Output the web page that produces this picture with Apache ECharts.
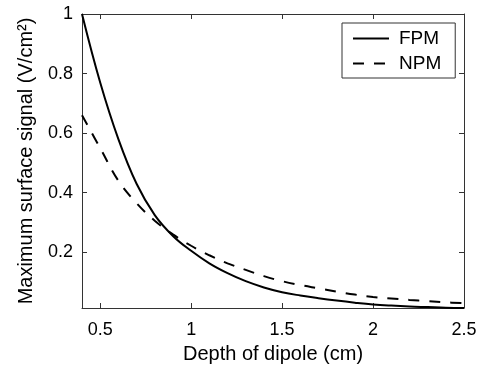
<!DOCTYPE html>
<html>
<head>
<meta charset="utf-8">
<script src="https://cdn.jsdelivr.net/npm/echarts@6/dist/echarts.min.js"></script>
<style>html,body{margin:0;padding:0;background:#fff}#c{width:488px;height:369px}</style>
</head>
<body>
<div id="c"></div>
<script>
const depth = [0.4,0.5,0.6,0.7,0.8,0.9,1.0,1.1,1.2,1.3,1.4,1.5,1.6,1.7,1.8,1.9,2.0,2.1,2.2,2.3,2.4,2.5];
const fpm   = [1.0,0.77,0.58,0.43,0.325,0.255,0.205,0.163,0.13,0.103,0.082,0.066,0.055,0.046,0.038,0.031,0.025,0.021,0.018,0.016,0.014,0.013];
const npm   = [0.66,0.55,0.44,0.365,0.306,0.26,0.222,0.19,0.163,0.141,0.12,0.103,0.09,0.079,0.068,0.058,0.05,0.045,0.04,0.036,0.032,0.029];
const xTicks = [0.5,1,1.5,2,2.5];
const yTicks = [0.2,0.4,0.6,0.8,1];
const seriesNames = ['FPM','NPM'];

const FONT = 'Liberation Sans';
const chart = echarts.init(document.getElementById('c'), null, {renderer:'canvas'});
const pairs = ys => depth.map((d,i)=>[d, ys[i]]);
const axisLine = {show:true, lineStyle:{color:'#333', width:1}};
const xBase = {type:'value', min:0.4, max:2.5, splitLine:{show:false}, axisLine};
const yBase = {type:'value', min:0.013, max:1, splitLine:{show:false}, axisLine};
chart.setOption({
  animation:false,
  grid:{left:82, right:24, top:14, bottom:54},
  legend:{
    data:seriesNames, orient:'vertical', left:342, top:23,
    padding:[6,14,5,10], itemGap:6, itemWidth:36, itemHeight:14,
    borderColor:'#333', borderWidth:1, backgroundColor:'#fff',
    itemStyle:{opacity:0},
    textStyle:{fontFamily:FONT, fontSize:19, color:'#000', lineHeight:18, padding:[0,0,0,5]}
  },
  xAxis:[
    Object.assign({}, xBase, {position:'bottom',
      name:'Depth of dipole (cm)', nameLocation:'middle', nameGap:36,
      nameTextStyle:{fontFamily:FONT, fontSize:20, color:'#000'},
      axisTick:{show:true, inside:true, length:5, customValues:xTicks, lineStyle:{color:'#333'}},
      axisLabel:{show:true, customValues:xTicks, margin:13, fontFamily:FONT, fontSize:18, color:'#000', formatter:v=>String(v), showMinLabel:true, showMaxLabel:true}
    }),
    Object.assign({}, xBase, {position:'top',
      axisTick:{show:true, inside:true, length:5, customValues:xTicks, lineStyle:{color:'#333'}},
      axisLabel:{show:false}
    })
  ],
  yAxis:[
    Object.assign({}, yBase, {position:'left',
      name:'Maximum surface signal (V/cm²)', nameLocation:'middle', nameGap:46,
      nameTextStyle:{fontFamily:FONT, fontSize:20, color:'#000'},
      axisTick:{show:true, inside:true, length:5, customValues:yTicks, lineStyle:{color:'#333'}},
      axisLabel:{show:true, customValues:yTicks, margin:9, fontFamily:FONT, fontSize:18, color:'#000', formatter:v=>String(v)}
    }),
    Object.assign({}, yBase, {position:'right',
      axisTick:{show:true, inside:true, length:5, customValues:yTicks, lineStyle:{color:'#333'}},
      axisLabel:{show:false}
    })
  ],
  series:[
    {name:seriesNames[0], type:'line', data:pairs(fpm), showSymbol:false, symbol:'none',
     smooth:0.4, lineStyle:{color:'#000', width:2, type:'solid'}, itemStyle:{color:'#000'}},
    {name:seriesNames[1], type:'line', data:pairs(npm), showSymbol:false, symbol:'none',
     smooth:0.4, lineStyle:{color:'#000', width:2, type:[11,10]}, itemStyle:{color:'#000'}}
  ]
});
</script>
</body>
</html>
